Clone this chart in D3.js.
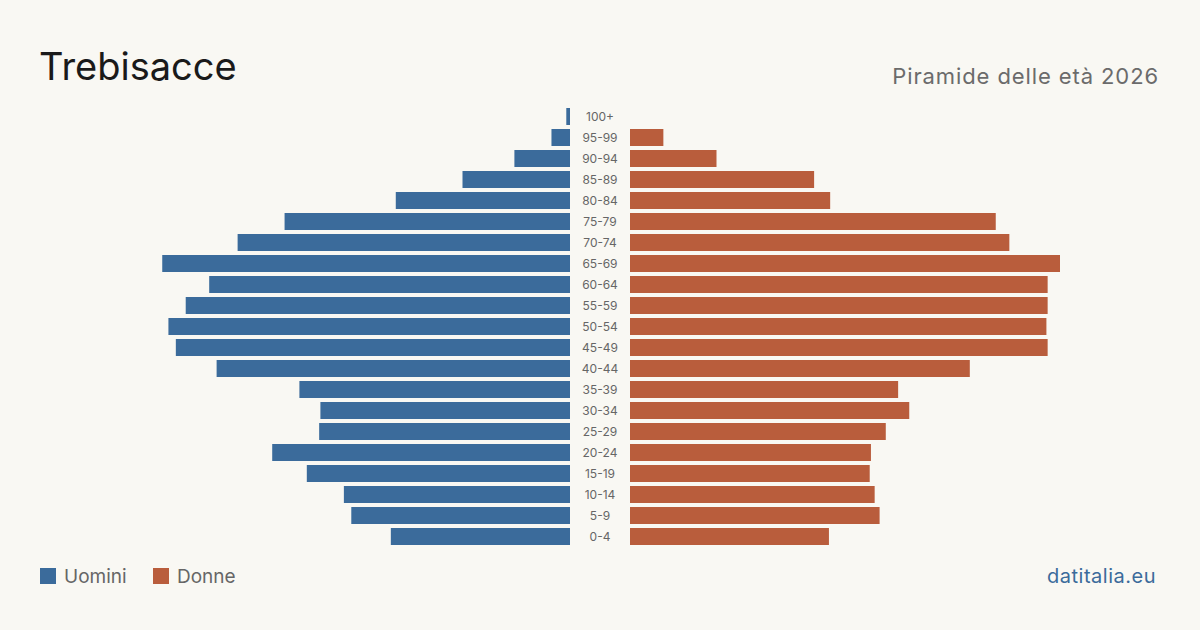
<!DOCTYPE html>
<html>
<head>
<meta charset="utf-8">
<script src="https://cdn.jsdelivr.net/npm/d3@7"></script>
<style>
  body { margin: 0; background: #f9f8f3; }
  svg { display: block; font-family: Inter, "Noto Sans", sans-serif; }
</style>
</head>
<body>
<div id="container"></div>
<script>
// fasce d'età, dall'alto verso il basso
var ages = ["100+", "95-99", "90-94", "85-89", "80-84", "75-79", "70-74", "65-69",
            "60-64", "55-59", "50-54", "45-49", "40-44", "35-39", "30-34", "25-29",
            "20-24", "15-19", "10-14", "5-9", "0-4"];
var uomini = [3, 15, 45, 87, 141, 231, 269, 330, 292, 311, 325, 319, 286, 219, 202, 203, 241, 213, 183, 177, 145];
var donne  = [0, 27, 70, 149, 162, 296, 307, 348, 338, 338, 337, 338, 275, 217, 226, 207, 195, 194, 198, 202, 161];

var width = 1200, height = 630;
var cx = 600, gap = 30;
var blu = "#3b6b9b", rosso = "#b95d3c";

var svg = d3.select("#container").append("svg")
    .attr("width", width)
    .attr("height", height);

svg.append("rect").attr("width", width).attr("height", height).attr("fill", "#f9f8f3");

var maxVal = d3.max(uomini.concat(donne));
var x = d3.scaleLinear().domain([0, maxVal]).range([0, 430]);
var y = d3.scaleBand().domain(ages)
    .range([106, 106 + 21 * ages.length])
    .paddingInner(4 / 21)
    .paddingOuter(2 / 21);

var rows = ages.map(function(a, i) { return {age: a, m: uomini[i], f: donne[i]}; });

svg.append("g").selectAll("rect")
    .data(rows).enter().append("rect")
    .attr("x", function(d) { return cx - gap - x(d.m); })
    .attr("y", function(d) { return y(d.age); })
    .attr("width", function(d) { return x(d.m); })
    .attr("height", y.bandwidth())
    .attr("fill", blu);

svg.append("g").selectAll("rect")
    .data(rows.filter(function(d) { return d.f > 0; })).enter().append("rect")
    .attr("x", cx + gap)
    .attr("y", function(d) { return y(d.age); })
    .attr("width", function(d) { return x(d.f); })
    .attr("height", y.bandwidth())
    .attr("fill", rosso);

svg.append("g").selectAll("text")
    .data(rows).enter().append("text")
    .attr("x", cx)
    .attr("y", function(d) { return y(d.age) + y.bandwidth() / 2; })
    .attr("dy", "0.35em")
    .attr("text-anchor", "middle")
    .attr("font-size", 12)
    .attr("fill", "#666")
    .text(function(d) { return d.age; });

// titolo e sottotitolo
svg.append("text").attr("x", 39).attr("y", 80)
    .attr("font-size", 38).attr("fill", "#1a1a1a")
    .text("Trebisacce");
svg.append("text").attr("x", 1159).attr("y", 84)
    .attr("text-anchor", "end")
    .attr("font-size", 22).attr("letter-spacing", 0.9).attr("fill", "#6b6b6b")
    .text("Piramide delle età 2026");

// legenda
var legend = [{label: "Uomini", color: blu, x: 40}, {label: "Donne", color: rosso, x: 153}];
var lg = svg.append("g").selectAll("g").data(legend).enter().append("g");
lg.append("rect")
    .attr("x", function(d) { return d.x; }).attr("y", 568)
    .attr("width", 16).attr("height", 16)
    .attr("fill", function(d) { return d.color; });
lg.append("text")
    .attr("x", function(d) { return d.x + 24; }).attr("y", 583)
    .attr("font-size", 19).attr("fill", "#666")
    .text(function(d) { return d.label; });

svg.append("text").attr("x", 1156).attr("y", 583)
    .attr("text-anchor", "end")
    .attr("font-size", 20).attr("letter-spacing", 0.5).attr("fill", blu)
    .text("datitalia.eu");
</script>
</body>
</html>
